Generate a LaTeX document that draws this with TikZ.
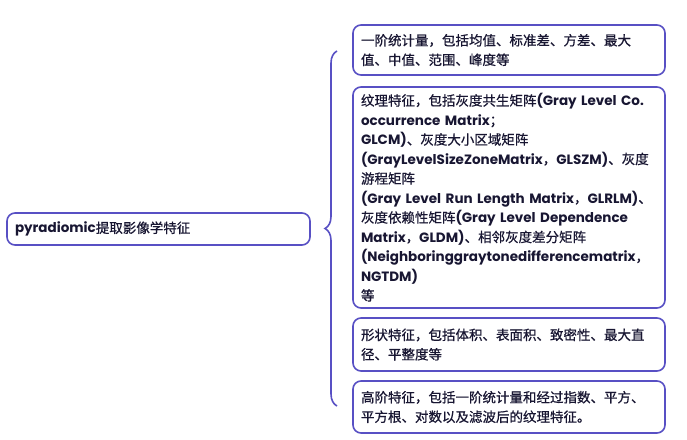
\documentclass[tikz,border=0pt]{standalone}
\usepackage{fontspec}
\setmainfont{Noto Sans CJK SC}[FakeBold=0.7]
\newfontfamily\latina{Poppins}
\usepackage{xcolor}
\usepackage{tikz}
\usetikzlibrary{decorations.pathreplacing}
\definecolor{MoradoBorde}{RGB}{88,80,196}
\definecolor{TintaOscura}{RGB}{24,22,50}
\newcommand{\lat}[1]{{\latina\bfseries #1}}

\begin{document}
\begin{tikzpicture}[x=1pt,y=-1pt,
  caja/.style={draw=MoradoBorde,line width=1.6pt,rounded corners=8pt,fill=white,
    text=TintaOscura,inner xsep=8pt,inner ysep=0pt,align=left,text width=296pt,
    font=\fontsize{13.5}{19.5}\selectfont},
  raiz/.style={caja,text width=287pt,minimum height=32pt}]
  \useasboundingbox (0,0) rectangle (687,439);
  % nodo central
  \node[raiz] (raiz) at (158.5,229) {\lat{pyradiomic}提取影像学特征};
  % ramas
  \node[caja,minimum height=50pt] (estad) at (509,50)
    {一阶统计量，包括均值、标准差、方差、最大\\值、中值、范围、峰度等};
  \node[caja,minimum height=221pt] (textura) at (509,197.5)
    {纹理特征，包括灰度共生矩阵\lat{(Gray Level Co.}\\
     \lat{occurrence Matrix}；\\
     \lat{GLCM)}、灰度大小区域矩阵\\
     \lat{(GrayLevelSizeZoneMatrix}，\lat{GLSZM)}、灰度\\
     游程矩阵\\
     \lat{(Gray Level Run Length Matrix}，\lat{GLRLM)}、\\
     灰度依赖性矩阵\lat{(Gray Level Dependence}\\
     \lat{Matrix}，\lat{GLDM)}、相邻灰度差分矩阵\\
     \lat{(Neighboringgraytonedifferencematrix}，\\
     \lat{NGTDM)}\\
     等};
  \node[caja,minimum height=53pt] (forma) at (509,344.5)
    {形状特征，包括体积、表面积、致密性、最大直\\径、平整度等};
  \node[caja,minimum height=52pt] (orden) at (509,407)
    {高阶特征，包括一阶统计量和经过指数、平方、\\平方根、对数以及滤波后的纹理特征。};
  % llave
  \coordinate (llaveAbajo) at (337,406);
  \coordinate (llaveArriba) at (337,51);
  \draw[MoradoBorde,line width=1.6pt,decorate,decoration={brace,amplitude=12pt}]
    (llaveAbajo) -- (llaveArriba);
\end{tikzpicture}
\end{document}
